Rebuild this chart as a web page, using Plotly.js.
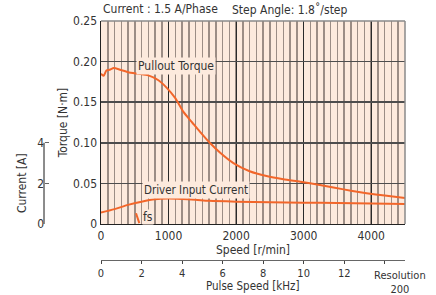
<!DOCTYPE html>
<html><head><meta charset="utf-8">
<script src="https://cdn.plot.ly/plotly-3.0.1.min.js"></script>
<style>html,body{margin:0;padding:0;background:#fff;}#chart{width:436px;height:295px;}</style>
</head><body><div id="chart"></div>
<script>
// Pullout torque [N·m] vs speed [r/min]
const torqueSpeed = [0, 40, 80, 130, 190, 280, 400, 550, 700, 850, 970, 1100, 1220, 1350, 1460, 1610, 1760, 1960, 2200, 2450, 2700, 2950, 3240, 3440, 3700, 3930, 4200, 4500];
const torqueValues = [0.185, 0.1825, 0.189, 0.190, 0.192, 0.190, 0.187, 0.185, 0.183, 0.177, 0.168, 0.155, 0.138, 0.125, 0.114, 0.100, 0.088, 0.075, 0.065, 0.059, 0.055, 0.052, 0.048, 0.045, 0.041, 0.038, 0.035, 0.032];
// Driver input current [A] vs speed [r/min]
const currentSpeed = [0, 200, 400, 600, 800, 1000, 1200, 1400, 1600, 2000, 2500, 3000, 3500, 4000, 4500];
const currentValues = [0.56, 0.73, 0.94, 1.10, 1.22, 1.25, 1.23, 1.19, 1.14, 1.10, 1.07, 1.05, 1.03, 1.01, 0.99];
// fs marker
const fsSpeed = [518, 567];
const fsTorque = [0.0132, 0.001];
// tick labels
const torqueTicks = [0, 0.05, 0.10, 0.15, 0.20, 0.25];
const torqueTickText = ['0', '0.05', '0.10', '0.15', '0.20', '0.25'];
const speedTicks = [0, 1000, 2000, 3000, 4000];
const currentTicks = [0, 2, 4];
const currentTickText = ['0', '2', '4'];
const pulseTicks = [0, 2, 4, 6, 8, 10, 12, 14];
const pulseTickText = ['0', '2', '4', '6', '8', '10', '12', ''];

const FONT = 'Liberation Sans Narrow, Arial Narrow, DejaVu Sans Condensed, sans-serif';
const ORANGE = '#f2662a';
const BG = '#fdeadd';
const TXT = '#333333';

const traces = [
  {x: torqueSpeed, y: torqueValues, type: 'scatter', mode: 'lines', line: {color: ORANGE, width: 2, shape: 'spline', smoothing: 0.6}, xaxis: 'x', yaxis: 'y', hoverinfo: 'skip'},
  {x: currentSpeed, y: currentValues, type: 'scatter', mode: 'lines', line: {color: ORANGE, width: 2, shape: 'spline', smoothing: 0.8}, xaxis: 'x', yaxis: 'y2', hoverinfo: 'skip', cliponaxis: true},
  {x: fsSpeed, y: fsTorque, type: 'scatter', mode: 'lines', line: {color: ORANGE, width: 2}, xaxis: 'x', yaxis: 'y', hoverinfo: 'skip'},
  // carrier for the pulse-speed axis (no visible marks)
  {x: pulseTicks, y: pulseTicks.map(() => null), type: 'scatter', mode: 'none', xaxis: 'x2', yaxis: 'y', hoverinfo: 'skip'}
];

const layout = {
  width: 436, height: 295,
  margin: {l: 10, r: 31, t: 21, b: 20},
  paper_bgcolor: '#fff', plot_bgcolor: BG,
  showlegend: false,
  font: {family: FONT, size: 12, color: TXT},
  xaxis: {
    domain: [0.2304, 1], range: [0, 4500], anchor: 'y',
    tickvals: speedTicks, ticks: '', showline: true, linecolor: '#222', linewidth: 1.5,
    showgrid: true, dtick: 200, tick0: 0, gridcolor: '#2a2a2a', gridwidth: 1,
    minor: {dtick: 100, tick0: 0, showgrid: true, gridcolor: '#9c8d85', gridwidth: 1.5},
    zeroline: false, tickfont: {family: FONT, size: 12, color: TXT},
    title: {text: 'Speed [r/min]', font: {family: FONT, size: 12, color: TXT}, standoff: 2}
  },
  yaxis: {
    domain: [0.2008, 1], range: [0, 0.25], anchor: 'x',
    tickvals: torqueTicks, ticktext: torqueTickText, ticks: '',
    showline: true, linecolor: '#222', linewidth: 1.5,
    showgrid: true, gridcolor: '#4d4d4d', gridwidth: 1.5, zeroline: false,
    tickfont: {family: FONT, size: 12, color: TXT},
    title: {text: 'Torque [N·m]', font: {family: FONT, size: 12, color: TXT}, standoff: 3}
  },
  yaxis2: {
    overlaying: 'y', anchor: 'free', position: 0.0861, side: 'left',
    range: [-0.001, 10], tickvals: currentTicks, ticktext: currentTickText,
    ticks: 'inside', ticklen: 4, tickcolor: '#666666', tickwidth: 1.2,
    showline: false, showgrid: false, zeroline: false,
    tickfont: {family: FONT, size: 12, color: '#333'}
  },
  xaxis2: {
    overlaying: 'x', anchor: 'free', position: 0.06, side: 'bottom',
    range: [0, 15], tickvals: pulseTicks, ticktext: pulseTickText,
    ticks: 'outside', ticklen: 3, tickcolor: '#444444', tickwidth: 1,
    showline: true, linecolor: '#666666', linewidth: 1.5, showgrid: false, zeroline: false,
    tickfont: {family: FONT, size: 11, color: TXT}
  },
  shapes: [
    {type: 'line', xref: 'x domain', yref: 'y domain', x0: 0, x1: 1, y0: 1, y1: 1, line: {color: '#8a8a8a', width: 1.5}},
    {type: 'line', xref: 'x domain', yref: 'y domain', x0: 1, x1: 1, y0: 0, y1: 1, line: {color: '#8a8a8a', width: 1.5}},
    {type: 'line', xref: 'paper', yref: 'y2', x0: 0.0861, x1: 0.0861, y0: 0, y1: 4, line: {color: '#666666', width: 1.5}}
  ],
  annotations: [
    {text: 'Current : 1.5 A/Phase', xref: 'paper', yref: 'paper', x: 0.2304, y: 1.047, xanchor: 'left', yanchor: 'middle', showarrow: false, font: {family: FONT, size: 12, color: TXT}},
    {text: 'Step Angle: 1.8˚/step', xref: 'paper', yref: 'paper', x: 0.557, y: 1.047, xanchor: 'left', yanchor: 'middle', showarrow: false, font: {family: FONT, size: 12, color: TXT}},
    {text: 'Pullout Torque', xref: 'x', yref: 'y', x: 520, y: 0.195, xanchor: 'left', yanchor: 'middle', showarrow: false, bgcolor: BG, borderpad: 1, font: {family: FONT, size: 12, color: TXT}},
    {text: 'Driver Input Current', xref: 'x', yref: 'y', x: 600, y: 0.042, xanchor: 'left', yanchor: 'middle', showarrow: false, bgcolor: BG, borderpad: 1, font: {family: FONT, size: 11.5, color: TXT}},
    {text: 'fs', xref: 'x', yref: 'y', x: 600, y: 0.0086, xanchor: 'left', yanchor: 'middle', showarrow: false, bgcolor: BG, borderpad: 0, font: {family: FONT, size: 12, color: TXT}},
    {text: 'Current [A]', xref: 'paper', yref: 'paper', x: 0.0304, y: 0.362, xanchor: 'center', yanchor: 'middle', textangle: -90, showarrow: false, font: {family: FONT, size: 12, color: TXT}},
    {text: 'Pulse Speed [kHz]', xref: 'paper', yref: 'paper', x: 0.6152, y: -0.045, xanchor: 'center', yanchor: 'middle', showarrow: false, font: {family: FONT, size: 11.5, color: TXT}},
    {text: 'Resolution<br>200', xref: 'paper', yref: 'paper', x: 0.987, y: -0.03, xanchor: 'center', yanchor: 'middle', showarrow: false, font: {family: FONT, size: 11, color: TXT}}
  ]
};

Plotly.newPlot('chart', traces, layout, {displayModeBar: false, staticPlot: true});
</script></body></html>
